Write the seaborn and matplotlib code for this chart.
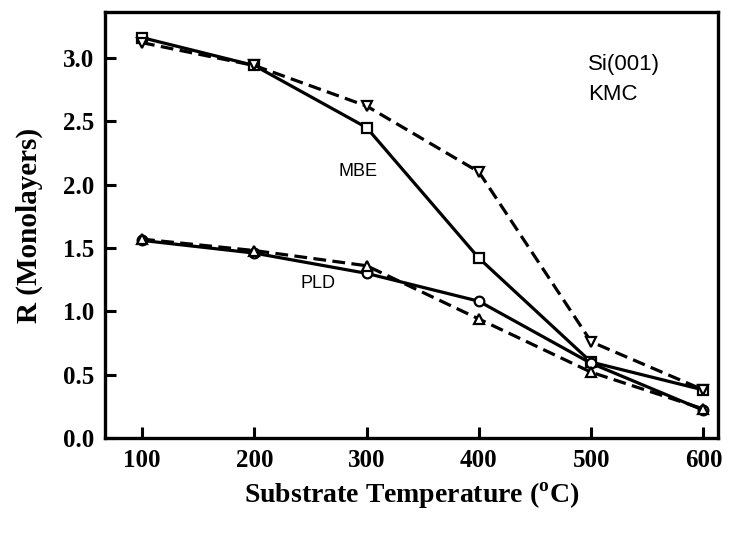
import matplotlib
matplotlib.use("Agg")
import matplotlib.pyplot as plt
import pandas as pd
import seaborn as sns

# 数据: 衬底温度 vs R (单层)
temperature = [100, 200, 300, 400, 500, 600]
mbe_square = [3.16, 2.94, 2.45, 1.42, 0.60, 0.38]
mbe_tri = [3.12, 2.94, 2.62, 2.10, 0.76, 0.38]
pld_circle = [1.56, 1.46, 1.30, 1.08, 0.59, 0.22]
pld_tri = [1.57, 1.48, 1.36, 0.94, 0.52, 0.23]

series = [
    ("MBE_square", mbe_square, "s", "-"),
    ("MBE_tri", mbe_tri, "v", (0, (4, 2))),
    ("PLD_circle", pld_circle, "o", "-"),
    ("PLD_tri", pld_tri, "^", (0, (4, 2))),
]

sns.set_theme(style="white")
plt.rcParams['font.family'] = ['Liberation Serif', 'DejaVu Serif']
plt.rcParams['mathtext.fontset'] = 'custom'
plt.rcParams['mathtext.rm'] = 'Liberation Serif:bold'
plt.rcParams['text.color'] = 'black'
plt.rcParams['axes.labelcolor'] = 'black'

fig = plt.figure(figsize=(7.29, 5.33), dpi=100)
ax = fig.add_axes([0.144, 0.178, 0.841, 0.799])

for name, vals, mk, ls in series:
    df = pd.DataFrame({"T": temperature, "R": vals})
    sns.lineplot(data=df, x="T", y="R", ax=ax, color="black", linewidth=2.3,
                 linestyle=ls, marker=mk, markersize=7, markerfacecolor="white",
                 markeredgecolor="black", markeredgewidth=1.6)

ax.set_xlim(67, 613)
ax.set_ylim(0, 3.36)
ax.set_xticks([100, 200, 300, 400, 500, 600])
ax.set_yticks([0.0, 0.5, 1.0, 1.5, 2.0, 2.5, 3.0])
ax.set_yticklabels([f"{v:.1f}" for v in [0.0, 0.5, 1.0, 1.5, 2.0, 2.5, 3.0]])
ax.tick_params(axis="both", direction="in", length=8, width=2.2, colors="black",
               labelsize=18, pad=8, bottom=True, left=True)
for lab in ax.get_xticklabels() + ax.get_yticklabels():
    lab.set_fontweight("bold")

for sp in ax.spines.values():
    sp.set_linewidth(2.4)
    sp.set_color("black")

ax.set_xlabel("Substrate Temperature ($^{\\rm o}$C)", fontsize=20, fontweight="bold",
              labelpad=6, color="black")
ax.set_ylabel("R (Monolayers)", fontsize=21, fontweight="bold", labelpad=14, color="black")

sans = ['Liberation Sans', 'DejaVu Sans']
ax.text(292, 2.10, "MBE", family=sans, fontsize=13, ha="center", va="center", color="black")
ax.text(257, 1.22, "PLD", family=sans, fontsize=13, ha="center", va="center", color="black")
ax.text(497, 2.95, "Si(001)", family=sans, fontsize=16, ha="left", va="center", color="black")
ax.text(497, 2.71, "KMC", family=sans, fontsize=16, ha="left", va="center", color="black")

fig.savefig("out.png", dpi=100)
